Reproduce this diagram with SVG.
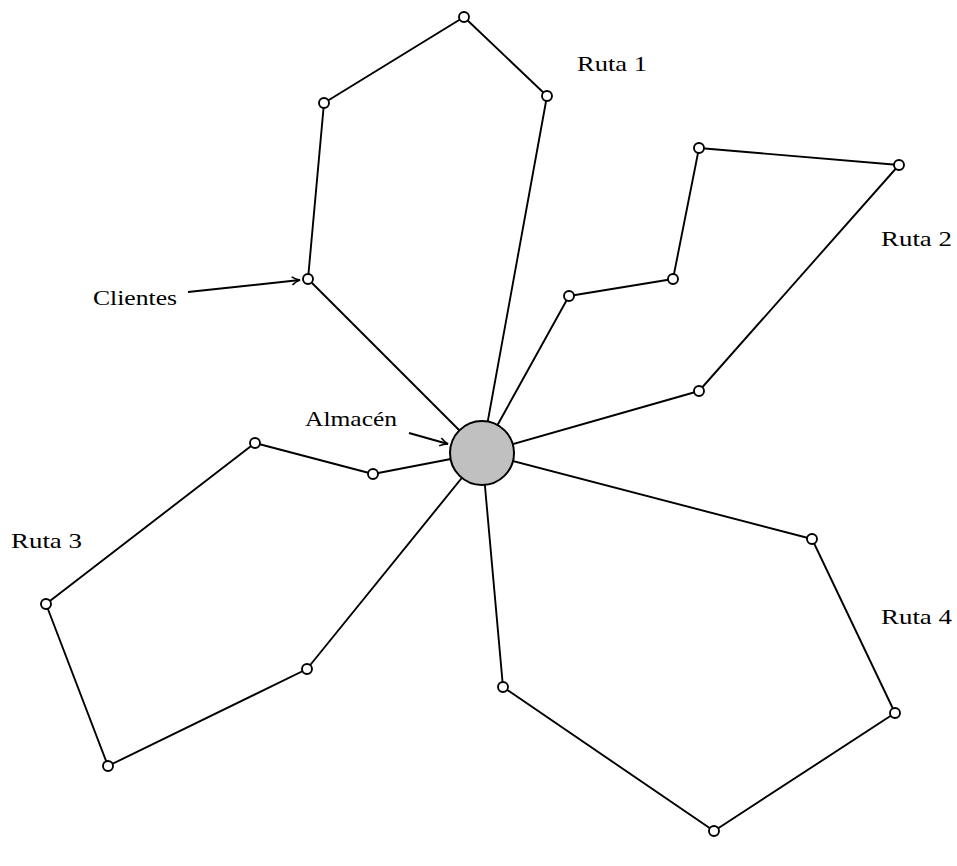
<svg xmlns="http://www.w3.org/2000/svg" width="957" height="866" viewBox="0 0 957 866">
<style>
.e{fill:none;stroke:#000;stroke-width:1.9;stroke-linejoin:round}
.n{fill:#fff;stroke:#000;stroke-width:1.9}
.t{font-family:"Liberation Serif","DejaVu Serif",serif;font-size:21px;fill:#000}
</style>
<defs>
<marker id="ah" viewBox="0 0 10 10" refX="9" refY="5" markerWidth="10" markerHeight="10" markerUnits="userSpaceOnUse" orient="auto">
<path d="M1,1 Q5,4 9,5 Q5,6 1,9" fill="none" stroke="#000" stroke-width="1.6"/>
</marker>
</defs>
<rect width="957" height="866" fill="#fff"/>
<g id="connectors">
<polyline class="e" points="482,453 308,279 324,103 464,17 547,96 482,453"/>
<polyline class="e" points="482,453 569,296 673,279 699,148 899,165 699,391 482,453"/>
<polyline class="e" points="482,453 373,474 255,443 46,604 108,766 307,669 482,453"/>
<polyline class="e" points="482,453 812,539 895,713 714,831 503,687 482,453"/>
<line class="e" x1="188" y1="292" x2="300" y2="280" marker-end="url(#ah)"/>
<line class="e" x1="409" y1="433" x2="448" y2="444" marker-end="url(#ah)"/>
</g>
<g id="almacen"><circle cx="482" cy="453" r="32" fill="#c0c0c0" stroke="#000" stroke-width="2"/></g>
<g id="r1c1"><circle class="n" cx="308" cy="279" r="5"/></g>
<g id="r1c2"><circle class="n" cx="324" cy="103" r="5"/></g>
<g id="r1c3"><circle class="n" cx="464" cy="17" r="5"/></g>
<g id="r1c4"><circle class="n" cx="547" cy="96" r="5"/></g>
<g id="r2c1"><circle class="n" cx="569" cy="296" r="5"/></g>
<g id="r2c2"><circle class="n" cx="673" cy="279" r="5"/></g>
<g id="r2c3"><circle class="n" cx="699" cy="148" r="5"/></g>
<g id="r2c4"><circle class="n" cx="899" cy="165" r="5"/></g>
<g id="r2c5"><circle class="n" cx="699" cy="391" r="5"/></g>
<g id="r3c1"><circle class="n" cx="373" cy="474" r="5"/></g>
<g id="r3c2"><circle class="n" cx="255" cy="443" r="5"/></g>
<g id="r3c3"><circle class="n" cx="46" cy="604" r="5"/></g>
<g id="r3c4"><circle class="n" cx="108" cy="766" r="5"/></g>
<g id="r3c5"><circle class="n" cx="307" cy="669" r="5"/></g>
<g id="r4c1"><circle class="n" cx="812" cy="539" r="5"/></g>
<g id="r4c2"><circle class="n" cx="895" cy="713" r="5"/></g>
<g id="r4c3"><circle class="n" cx="714" cy="831" r="5"/></g>
<g id="r4c4"><circle class="n" cx="503" cy="687" r="5"/></g>
<g id="labels">
<text class="t" x="577" y="71" textLength="70" lengthAdjust="spacingAndGlyphs">Ruta 1</text>
<text class="t" x="881" y="246" textLength="71" lengthAdjust="spacingAndGlyphs">Ruta 2</text>
<text class="t" x="11" y="548" textLength="71" lengthAdjust="spacingAndGlyphs">Ruta 3</text>
<text class="t" x="881" y="624" textLength="71" lengthAdjust="spacingAndGlyphs">Ruta 4</text>
<text class="t" x="93" y="305" textLength="84" lengthAdjust="spacingAndGlyphs">Clientes</text>
<text class="t" x="305" y="426" textLength="92" lengthAdjust="spacingAndGlyphs">Almacén</text>
</g>
</svg>
